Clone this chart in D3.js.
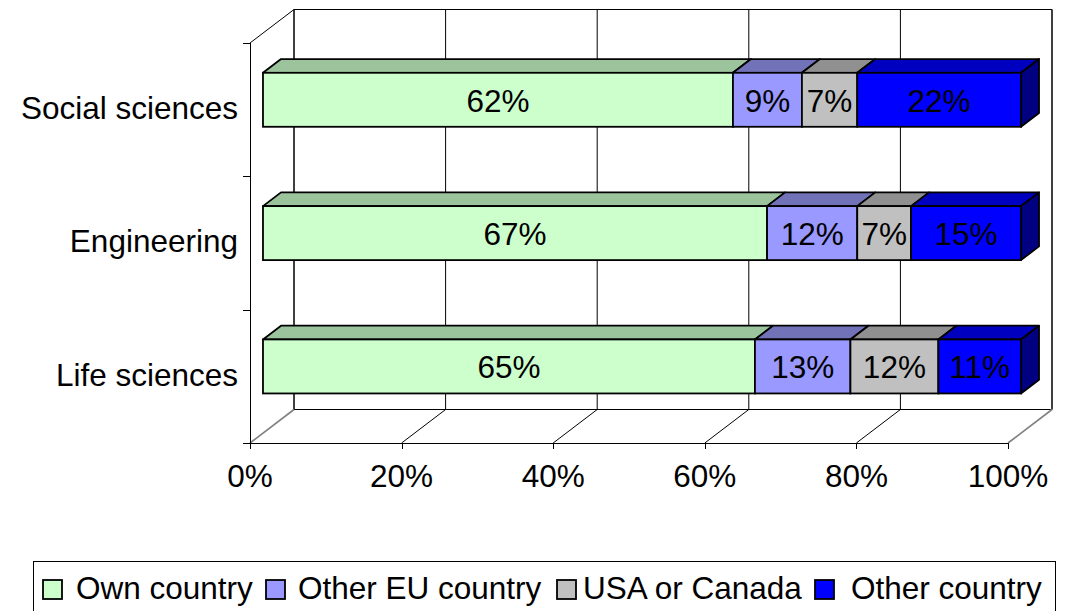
<!DOCTYPE html>
<html><head><meta charset="utf-8">
<script src="https://cdn.jsdelivr.net/npm/d3@7/dist/d3.min.js"></script>
<style>
html,body{margin:0;padding:0;background:#fff;}
svg text{font-family:"Liberation Sans",Arial,sans-serif;fill:#000;}
</style></head>
<body>
<svg id="chart" width="1067" height="611"></svg>
<script>
// ---- data (shares; labels are rounded) ----
const categories = ["Social sciences", "Engineering", "Life sciences"];
const seriesNames = ["Own country", "Other EU country", "USA or Canada", "Other country"];
const ownCountry   = [62.0, 66.5, 64.9];
const otherEU      = [9.1, 11.9, 12.6];
const usaCanada    = [7.3, 7.1, 11.6];
const otherCountry = [21.6, 14.5, 10.9];
const xTickValues  = [0, 20, 40, 60, 80, 100];
const xTickLabels  = ["0%", "20%", "40%", "60%", "80%", "100%"];

const frontColors = ["#CCFFCC", "#9999FF", "#C0C0C0", "#0000FF"];
const topColors   = ["#9CC49C", "#7272B8", "#909090", "#0000C0"];
const sideColor   = "#000080";
const FS = 31.5;

const rows = categories.map((c, i) => ({
  category: c,
  "Own country": ownCountry[i],
  "Other EU country": otherEU[i],
  "USA or Canada": usaCanada[i],
  "Other country": otherCountry[i]
}));

const stacked = d3.stack().keys(seriesNames).offset(d3.stackOffsetExpand)(rows);

const svg = d3.select("#chart");
const x = d3.scaleLinear().domain([0, 1]).range([250, 1008]);
const y = d3.scaleBand().domain(categories).range([43, 443])
  .paddingInner(0.595).paddingOuter(0.2975);
const step = y.step();

const DX = 44, DY = -33.5;     // full depth offset
const F0 = 0.295, F1 = 0.705;  // bar depth (front/back fraction)
const P = (xv, yv, f) => [x(xv) + DX * f, yv + DY * f];
const line = d3.line();

const g = svg.append("g");

// back wall
const yTop = 43, yBot = 443;
g.append("path")
  .attr("d", line([P(0, yTop, 1), P(1, yTop, 1), P(1, yBot, 1), P(0, yBot, 1)]) + "Z")
  .attr("fill", "none").attr("stroke", "#000").attr("stroke-width", 1);
xTickValues.forEach(t => {
  const v = t / 100;
  g.append("path").attr("d", line([P(v, yTop, 1), P(v, yBot, 1)]))
    .attr("stroke", "#000").attr("stroke-width", 1).attr("fill", "none");
});
// floor grid diagonals
xTickValues.forEach((t, i) => {
  const v = t / 100;
  const edge = (i === 0 || i === xTickValues.length - 1);
  g.append("path").attr("d", line([P(v, yBot, 0), P(v, yBot, 1)]))
    .attr("stroke", edge ? "#808080" : "#000").attr("stroke-width", edge ? 1.6 : 1).attr("fill", "none");
});
// left wall top diagonal
g.append("path").attr("d", line([P(0, yTop, 0), P(0, yTop, 1)]))
  .attr("stroke", "#000").attr("stroke-width", 1).attr("fill", "none");

// axis lines
g.append("line").attr("x1", x(0) + 0.5).attr("x2", x(0) + 0.5).attr("y1", yTop).attr("y2", yBot + 0.5)
  .attr("stroke", "#000").attr("stroke-width", 1);
g.append("line").attr("x1", x(0)).attr("x2", x(1)).attr("y1", yBot + 0.5).attr("y2", yBot + 0.5)
  .attr("stroke", "#000").attr("stroke-width", 1);
const yTickPos = [yTop].concat(categories.map(c => y(c) + y.bandwidth() / 2 + step / 2));
yTickPos.forEach(p => {
  g.append("line").attr("x1", x(0) - 7).attr("x2", x(0) + 0.5)
    .attr("y1", Math.round(p) + 0.5).attr("y2", Math.round(p) + 0.5)
    .attr("stroke", "#000").attr("stroke-width", 1);
});
xTickValues.forEach((t, i) => {
  const xv = Math.round(x(t / 100)) + 0.5;
  g.append("line").attr("x1", xv).attr("x2", xv).attr("y1", yBot).attr("y2", yBot + 6)
    .attr("stroke", "#000").attr("stroke-width", 1);
  g.append("text").attr("x", x(t / 100)).attr("y", 487)
    .attr("text-anchor", "middle").attr("font-size", FS).text(xTickLabels[i]);
});

// category labels
categories.forEach(c => {
  g.append("text").attr("x", 238).attr("y", y(c) + y.bandwidth() / 2)
    .attr("dy", "0.3em").attr("text-anchor", "end").attr("font-size", FS).text(c);
});

// bars
const raw = [ownCountry, otherEU, usaCanada, otherCountry];
categories.forEach((c, ci) => {
  const yt = y(c), yb = y(c) + y.bandwidth();
  stacked.forEach((s, si) => {
    const d = s[ci];
    const x0 = d[0], x1 = d[1];
    g.append("path")
      .attr("d", line([P(x0, yt, F0), P(x1, yt, F0), P(x1, yt, F1), P(x0, yt, F1)]) + "Z")
      .attr("fill", topColors[si]).attr("stroke", "#000").attr("stroke-width", 1.8).attr("stroke-linejoin", "round");
    const a = P(x0, yt, F0), b = P(x1, yb, F0);
    g.append("rect").attr("x", a[0]).attr("y", a[1]).attr("width", b[0] - a[0]).attr("height", b[1] - a[1])
      .attr("fill", frontColors[si]).attr("stroke", "#000").attr("stroke-width", 1.8);
    if (si === stacked.length - 1) {
      g.append("path")
        .attr("d", line([P(x1, yt, F0), P(x1, yt, F1), P(x1, yb, F1), P(x1, yb, F0)]) + "Z")
        .attr("fill", sideColor).attr("stroke", "#000").attr("stroke-width", 1.8).attr("stroke-linejoin", "round");
    }
    g.append("text").attr("x", (a[0] + b[0]) / 2).attr("y", (a[1] + b[1]) / 2)
      .attr("dy", "0.38em").attr("text-anchor", "middle").attr("font-size", FS)
      .text(Math.round(raw[si][ci]) + "%");
  });
});

// legend
const lg = svg.append("g");
lg.append("rect").attr("x", 33.5).attr("y", 561.5).attr("width", 1022).attr("height", 80)
  .attr("fill", "#fff").attr("stroke", "#000").attr("stroke-width", 1);
const swatchX = [43, 266, 557, 815];
const textX = [76, 298, 583, 851];
seriesNames.forEach((n, i) => {
  lg.append("rect").attr("x", swatchX[i]).attr("y", 580).attr("width", 19).attr("height", 19)
    .attr("fill", frontColors[i]).attr("stroke", "#000").attr("stroke-width", 1.8);
  lg.append("text").attr("x", textX[i]).attr("y", 599).attr("font-size", FS).text(n);
});
</script>
</body></html>
